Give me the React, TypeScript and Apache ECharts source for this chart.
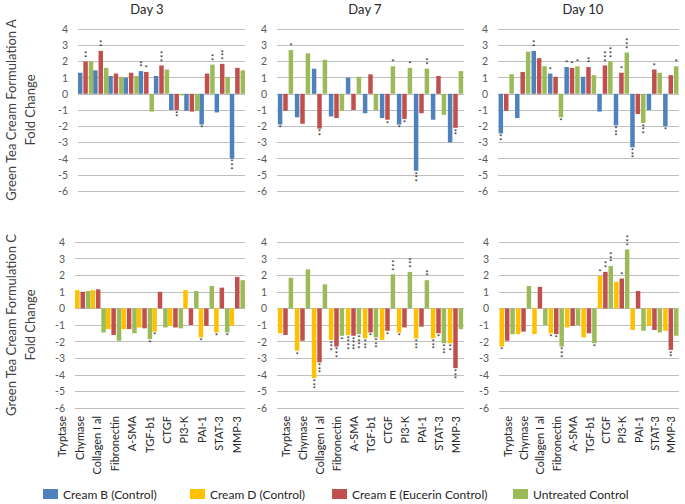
import React, { useEffect, useRef } from "react";
import * as echarts from "echarts";

const categories = ["Tryptase", "Chymase", "Collagen I al", "Fibronectin", "A-SMA", "TGF-b1", "CTGF", "PI3-K", "PAI-1", "STAT-3", "MMP-3"];
const dayTitles = ["Day 3", "Day 7", "Day 10"];
const yTicks = { min: -6, max: 4, interval: 1 };

// Formulation A (top row)
const aDay3CreamB = [1.3, 1.45, 1.1, 1.0, 1.4, 1.1, -1.0, -1.05, -1.9, -1.15, -4.0];
const aDay3CreamE = [2.0, 2.65, 1.25, 1.3, 1.35, 1.75, -1.0, -1.1, 1.25, 1.85, 1.6];
const aDay3Untreated = [2.0, 1.6, 1.05, 1.1, -1.1, 1.5, -0.1, -1.05, 1.8, 1.05, 1.45];
const aDay7CreamB = [-1.9, -1.45, 1.55, -1.4, 1.0, -1.2, -1.5, -1.9, -4.75, -1.6, -3.0];
const aDay7CreamE = [-1.05, -1.85, -2.15, -1.5, -1.0, 1.2, -1.6, -1.55, -1.2, 1.1, -2.1];
const aDay7Untreated = [2.7, 2.5, 2.1, -1.05, 1.05, -1.0, 1.7, 1.6, 1.55, -1.3, 1.4];
const aDay10CreamB = [-2.45, -1.5, 2.65, 1.25, 1.65, 1.05, -1.1, -1.95, -3.3, -1.0, -2.0];
const aDay10CreamE = [-1.05, 1.35, 2.2, 1.05, 1.6, 1.65, 1.75, 1.3, -1.25, 1.5, 1.15];
const aDay10Untreated = [1.2, 2.6, 1.7, -1.45, 1.7, 1.15, 2.0, 2.55, -1.8, 1.3, 1.7];

// Formulation C (bottom row)
const cDay3CreamD = [1.1, 1.1, -1.25, -1.25, -1.15, -1.4, -1.05, 1.1, -1.75, -1.45, -1.05];
const cDay3CreamE = [1.0, 1.15, -1.6, -1.25, -1.2, 1.0, -1.15, -1.0, -1.05, 1.25, 1.9];
const cDay3Untreated = [1.05, -1.45, -1.95, -1.5, -1.85, -1.15, -1.2, 1.05, 1.35, -1.45, 1.7];
const cDay7CreamD = [-1.5, -2.55, -4.2, -1.9, -1.6, -1.8, -1.9, -1.45, -1.8, -1.8, -2.1];
const cDay7CreamE = [-1.6, -1.95, -3.25, -2.3, -1.65, -1.45, -1.35, -1.15, -1.1, -1.5, -3.6];
const cDay7Untreated = [1.85, 2.35, 1.45, -1.65, -1.55, -1.75, 2.05, 2.2, 1.7, -2.1, -1.25];
const cDay10CreamD = [-2.3, -1.55, -1.55, -1.5, -1.15, -1.75, 1.95, 1.6, -1.3, -1.05, -1.35];
const cDay10CreamE = [-1.95, -1.4, 1.3, -1.55, -1.05, -1.5, 2.2, 1.8, 1.05, -1.3, -2.5];
const cDay10Untreated = [-1.55, 1.35, -1.0, -2.3, -1.0, -2.1, 2.55, 3.55, -1.35, -1.45, -1.65];

// significance marks (number of stacked asterisks)
const aDay3CreamBSig = [0, 0, 0, 0, 2, 0, 0, 0, 1, 0, 3];
const aDay3CreamESig = [2, 2, 0, 0, 1, 3, 2, 0, 0, 3, 0];
const aDay3UntreatedSig = [0, 0, 0, 0, 0, 0, 0, 0, 2, 0, 0];
const aDay7CreamBSig = [1, 0, 0, 0, 0, 0, 0, 1, 3, 0, 0];
const aDay7CreamESig = [0, 0, 2, 0, 0, 0, 1, 1, 0, 0, 2];
const aDay7UntreatedSig = [1, 0, 0, 0, 0, 0, 1, 1, 2, 0, 0];
const aDay10CreamBSig = [2, 0, 2, 1, 1, 0, 0, 3, 3, 0, 1];
const aDay10CreamESig = [0, 0, 0, 0, 1, 2, 3, 1, 0, 1, 0];
const aDay10UntreatedSig = [0, 0, 0, 1, 1, 0, 3, 3, 3, 0, 1];
const cDay3CreamDSig = [0, 0, 0, 0, 0, 1, 0, 0, 1, 1, 0];
const cDay3CreamESig = [0, 0, 0, 0, 0, 0, 0, 0, 0, 0, 0];
const cDay3UntreatedSig = [0, 0, 0, 0, 1, 0, 0, 0, 0, 1, 0];
const cDay7CreamDSig = [0, 1, 3, 3, 4, 3, 0, 1, 3, 3, 2];
const cDay7CreamESig = [0, 0, 3, 3, 4, 1, 1, 0, 0, 1, 3];
const cDay7UntreatedSig = [0, 0, 0, 1, 4, 3, 3, 3, 2, 3, 0];
const cDay10CreamDSig = [1, 0, 0, 1, 0, 0, 1, 0, 0, 0, 0];
const cDay10CreamESig = [0, 0, 0, 1, 0, 0, 2, 1, 0, 0, 2];
const cDay10UntreatedSig = [0, 0, 0, 3, 0, 1, 3, 3, 0, 0, 0];

const NAME_B = "Cream B (Control)";
const NAME_D = "Cream D (Control)";
const NAME_E = "Cream E (Eucerin Control)";
const NAME_U = "Untreated Control";
const COLORS: Record<string, string> = {
  [NAME_B]: "#4F81BD",
  [NAME_D]: "#FFC000",
  [NAME_E]: "#C0504D",
  [NAME_U]: "#9BBB59",
};

const FONT = "Lato, 'Open Sans', sans-serif";

const plotGrids = [
  { left: 58, top: 29, width: 187, height: 162 },
  { left: 277, top: 29, width: 187, height: 162 },
  { left: 498, top: 29, width: 181, height: 162 },
  { left: 53, top: 242, width: 192, height: 166 },
  { left: 277, top: 242, width: 187, height: 166 },
  { left: 499, top: 242, width: 180, height: 166 },
];
// label-only grids sharing the bottom row's horizontal extent
const labelGrids = plotGrids.slice(3).map((g) => ({ ...g }));
const grids = [...plotGrids, ...labelGrids];

function barSeries(name: string, values: number[], sig: number[], idx: number) {
  return {
    type: "bar",
    name,
    xAxisIndex: idx,
    yAxisIndex: idx,
    barWidth: 4.5,
    barGap: "20%",
    itemStyle: { color: COLORS[name] },
    label: { fontSize: 8, lineHeight: 3.6, color: "#222", distance: 2, fontFamily: FONT },
    data: values.map((v, i) => {
      const n = sig[i];
      if (!n) return v;
      return {
        value: v,
        label: {
          show: true,
          position: v >= 0 ? "top" : "bottom",
          formatter: Array(n).fill("*").join("\n"),
        },
      };
    }),
  };
}

export default function App() {
  const ref = useRef<HTMLDivElement>(null);
  useEffect(() => {
    if (!ref.current) return;
    const chart = echarts.init(ref.current, null, { renderer: "svg" });
    const xAxis = grids.map((_, i) => ({
      type: "category",
      gridIndex: i,
      data: categories,
      position: "bottom",
      axisLine: { show: false, onZero: false },
      axisTick: { show: false },
      axisLabel: {
        show: i >= 6,
        interval: 0,
        rotate: 90,
        align: "right",
        verticalAlign: "middle",
        margin: 8,
        fontSize: 11,
        color: "#262626",
        fontFamily: FONT,
      },
      splitLine: { show: false },
    }));
    const yAxis = grids.map((_, i) =>
      i >= 6
        ? {
            type: "value",
            gridIndex: i,
            min: 1,
            max: 2,
            show: false,
            splitLine: { show: false },
          }
        : {
            type: "value",
            gridIndex: i,
            min: yTicks.min,
            max: yTicks.max,
            interval: yTicks.interval,
            axisLine: { show: false },
            axisTick: { show: false },
            axisLabel: { fontSize: 10.5, color: "#595959", margin: 10, fontFamily: FONT },
            splitLine: { lineStyle: { color: "#BFBFBF", width: 1 } },
            name:
              i === 0
                ? "Green Tea Cream Formulation A\nFold Change"
                : i === 3
                ? "Green Tea Cream Formulation C\nFold Change"
                : "",
            nameLocation: "middle",
            nameRotate: 90,
            nameGap: i === 0 ? 39 : 36,
            nameTextStyle: { fontSize: 13, lineHeight: 19, color: "#404040", fontFamily: FONT },
          }
    );
    const series = [
      barSeries(NAME_B, aDay3CreamB, aDay3CreamBSig, 0),
      barSeries(NAME_E, aDay3CreamE, aDay3CreamESig, 0),
      barSeries(NAME_U, aDay3Untreated, aDay3UntreatedSig, 0),
      barSeries(NAME_B, aDay7CreamB, aDay7CreamBSig, 1),
      barSeries(NAME_E, aDay7CreamE, aDay7CreamESig, 1),
      barSeries(NAME_U, aDay7Untreated, aDay7UntreatedSig, 1),
      barSeries(NAME_B, aDay10CreamB, aDay10CreamBSig, 2),
      barSeries(NAME_E, aDay10CreamE, aDay10CreamESig, 2),
      barSeries(NAME_U, aDay10Untreated, aDay10UntreatedSig, 2),
      barSeries(NAME_D, cDay3CreamD, cDay3CreamDSig, 3),
      barSeries(NAME_E, cDay3CreamE, cDay3CreamESig, 3),
      barSeries(NAME_U, cDay3Untreated, cDay3UntreatedSig, 3),
      barSeries(NAME_D, cDay7CreamD, cDay7CreamDSig, 4),
      barSeries(NAME_E, cDay7CreamE, cDay7CreamESig, 4),
      barSeries(NAME_U, cDay7Untreated, cDay7UntreatedSig, 4),
      barSeries(NAME_D, cDay10CreamD, cDay10CreamDSig, 5),
      barSeries(NAME_E, cDay10CreamE, cDay10CreamESig, 5),
      barSeries(NAME_U, cDay10Untreated, cDay10UntreatedSig, 5),
    ];
    const legendPos = [
      { name: NAME_B, left: 43 },
      { name: NAME_D, left: 190 },
      { name: NAME_E, left: 332 },
      { name: NAME_U, left: 513 },
    ];
    const legend = legendPos.map((l) => ({
      data: [l.name],
      left: l.left,
      top: 488,
      padding: 0,
      itemWidth: 15,
      itemHeight: 10,
      itemGap: 0,
      icon: "rect",
      selectedMode: false,
      textStyle: { fontSize: 12, color: "#262626", fontFamily: FONT },
    }));
    const titleX = [147, 365, 583];
    const graphic = dayTitles.map((t, i) => ({
      type: "text",
      x: titleX[i],
      y: 9,
      style: {
        text: t,
        fontSize: 13,
        fill: "#262626",
        fontFamily: FONT,
        align: "center",
        verticalAlign: "middle",
      },
    }));
    chart.setOption({
      animation: false,
      backgroundColor: "#fff",
      grid: grids,
      xAxis,
      yAxis,
      series,
      legend,
      graphic,
    });
    return () => chart.dispose();
  }, []);
  return (
    <div
      ref={ref}
      style={{ position: "fixed", left: 0, top: 0, width: 685, height: 504 }}
    />
  );
}
